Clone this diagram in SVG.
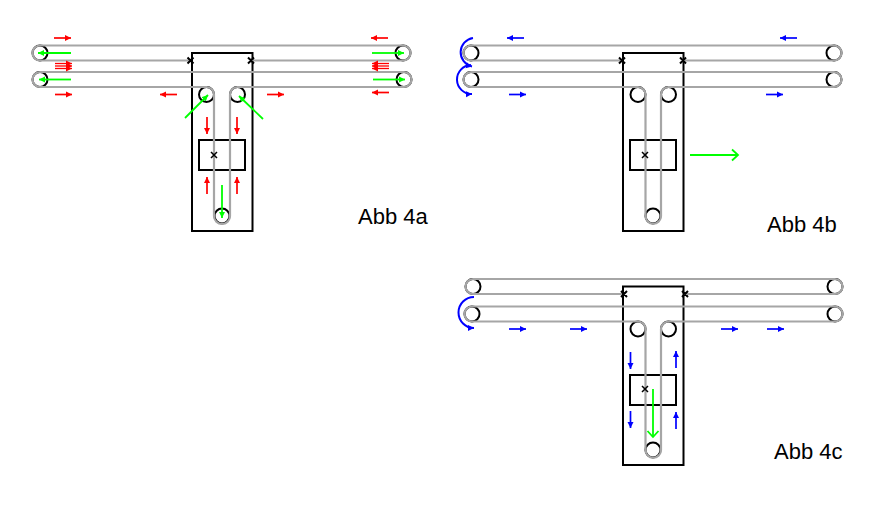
<svg xmlns="http://www.w3.org/2000/svg" width="887" height="517" viewBox="0 0 887 517">
<defs>
<marker id="hr" markerUnits="userSpaceOnUse" markerWidth="7" markerHeight="7" refX="6" refY="3.5" orient="auto"><path d="M0 .5L6 3.5L0 6.500Z" fill="#f00"/></marker>
<marker id="hb" markerUnits="userSpaceOnUse" markerWidth="7" markerHeight="7" refX="6" refY="3.500" orient="auto"><path d="M0 .5L6 3.5L0 6.500Z" fill="#00f"/></marker>
<marker id="hg" markerUnits="userSpaceOnUse" markerWidth="7" markerHeight="7" refX="6" refY="3.500" orient="auto"><path d="M0 .5L6 3.5L0 6.500Z" fill="#0f0"/></marker>
<marker id="og" markerUnits="userSpaceOnUse" markerWidth="12" markerHeight="16" refX="9" refY="8" orient="auto"><path d="M3 2.500L9 8L3 13.500" fill="none" stroke="#0f0" stroke-width="1.800"/></marker>
</defs>
<style>
.p{fill:#fff;stroke:#000;stroke-width:2}
.f{fill:none;stroke:#000;stroke-width:2}
.x{fill:none;stroke:#000;stroke-width:2}
.y{fill:none;stroke:#000;stroke-width:1.500}
.b{fill:none;stroke:#a6a6a6;stroke-width:2.200}
.r{fill:none;stroke:#f00;stroke-width:1.700;marker-end:url(#hr)}
.t{fill:none;stroke:#f00;stroke-width:1.300;marker-end:url(#hr)}
.l{fill:none;stroke:#00f;stroke-width:1.700;marker-end:url(#hb)}
.a{fill:none;stroke:#00f;stroke-width:2;marker-end:url(#hb)}
.g{fill:none;stroke:#0f0;stroke-width:1.800;marker-end:url(#hg)}
.o{fill:none;stroke:#0f0;stroke-width:1.800;marker-end:url(#og)}
text{font-family:"Liberation Sans",Arial,sans-serif;font-size:22px;fill:#000}
</style>
<g id="frame-a"><rect class="f" x="192" y="53" width="60.500" height="178"/><rect class="f" x="199" y="140" width="46" height="30"/></g>
<g id="pulleys-a"><circle class="p" cx="40" cy="53" r="7.500"/><circle class="p" cx="40" cy="79.500" r="7.500"/><circle class="p" cx="403" cy="53" r="7.500"/><circle class="p" cx="404" cy="79.500" r="7.500"/><circle class="p" cx="206.500" cy="94.500" r="7.500"/><circle class="p" cx="237.500" cy="94.500" r="7.500"/><circle class="p" cx="222" cy="216" r="7.500"/></g>
<g id="frame-b"><rect class="f" x="623" y="53" width="60.500" height="178"/><rect class="f" x="630" y="140" width="46" height="30"/></g>
<g id="pulleys-b"><circle class="p" cx="471" cy="53" r="7.500"/><circle class="p" cx="471" cy="79.500" r="7.500"/><circle class="p" cx="834" cy="53" r="7.500"/><circle class="p" cx="834" cy="79.500" r="7.500"/><circle class="p" cx="638" cy="94.500" r="7.500"/><circle class="p" cx="668.500" cy="94.500" r="7.500"/><circle class="p" cx="653" cy="216" r="7.500"/></g>
<g id="frame-c"><rect class="f" x="623" y="286.500" width="60.500" height="178.500"/><rect class="f" x="630" y="375" width="46" height="30"/></g>
<g id="pulleys-c"><circle class="p" cx="473" cy="286.500" r="7.500"/><circle class="p" cx="472" cy="314" r="7.500"/><circle class="p" cx="835" cy="286.500" r="7.500"/><circle class="p" cx="835" cy="314" r="7.500"/><circle class="p" cx="638" cy="329" r="7.500"/><circle class="p" cx="668.500" cy="329" r="7.500"/><circle class="p" cx="653" cy="450" r="7.500"/></g>
<g id="connectors">
<path class="b" d="M190 60.500H40A7.500 7.500 0 0 1 40 45.500H403A7.500 7.500 0 0 1 403 60.500H251"/>
<path class="b" d="M206.500 87H40A7.500 7.500 0 0 1 40 72H404A7.500 7.500 0 0 1 404 87H237.500A7.500 7.500 0 0 0 230 94.500V216A7.900 7.900 0 0 1 214 216V94.500A7.500 7.500 0 0 0 206.500 87"/>
<path class="b" d="M621 60.500H471A7.500 7.500 0 0 1 471 45.500H834A7.500 7.500 0 0 1 834 60.500H682"/>
<path class="b" d="M638 87H471A7.500 7.500 0 0 1 471 72H834A7.500 7.500 0 0 1 834 87H668.500A7.500 7.500 0 0 0 661 94.500V216A7.600 7.600 0 0 1 645.500 216V94.500A7.500 7.500 0 0 0 638 87"/>
<path class="b" d="M622 294H473A7.500 7.500 0 0 1 473 279H835A7.500 7.500 0 0 1 835 294H684"/>
<path class="b" d="M638 321.500H472A7.500 7.500 0 0 1 472 306.500H835A7.500 7.500 0 0 1 835 321.500H668.500A7.500 7.500 0 0 0 661 329V450A7.600 7.600 0 0 1 645.500 450V329A7.500 7.500 0 0 0 638 321.500"/>
<path class="x" d="M187.500 57.500l6 6m0-6l-6 6M248 57.500l6 6m0-6l-6 6"/><path class="y" d="M211 152l6 6m0-6l-6 6"/>
<path class="x" d="M619 57.500l6 6m0-6l-6 6M680 57.500l6 6m0-6l-6 6"/><path class="y" d="M642 152l6 6m0-6l-6 6"/>
<path class="x" d="M621 291l6 6m0-6l-6 6M682 291l6 6m0-6l-6 6"/><path class="y" d="M642 386l6 6m0-6l-6 6"/>
<path class="r" d="M54 38H71"/><path class="t" d="M55 63.500H72"/><path class="t" d="M55 66H72"/><path class="t" d="M55 68.500H72"/><path class="r" d="M55 94.500H72"/><path class="r" d="M177 94.500H160"/><path class="r" d="M267 94.500H284"/><path class="r" d="M388 38H371"/><path class="t" d="M389 63.500H372"/><path class="t" d="M389 66H372"/><path class="t" d="M389 68.500H372"/><path class="r" d="M389 92.500H372"/><path class="r" d="M207 117V134"/><path class="r" d="M237 117V134"/><path class="r" d="M207 194V177"/><path class="r" d="M237 194V177"/>
<path class="g" d="M71 53H38"/><path class="g" d="M71 79.500H39"/><path class="g" d="M372 53H404"/><path class="g" d="M373 79.500H405"/><path class="g" d="M185 118L208 95"/><path class="g" d="M263 119L239 96"/><path class="g" d="M222 185V218"/>
<path class="o" d="M690 155H738"/><path class="o" d="M653 389V437"/>
<path class="a" d="M473 38A14.500 14.500 0 0 0 472 66.500"/><path class="a" d="M471 65A14.500 14.500 0 0 0 472 94"/><path class="a" d="M474 297A15.500 15.500 0 0 0 474 328"/>
<path class="l" d="M524 38H507"/><path class="l" d="M509 94.500H526"/><path class="l" d="M797 38H780"/><path class="l" d="M766 94.500H783"/>
<path class="l" d="M509 329H526"/><path class="l" d="M570 329H587"/><path class="l" d="M721 329H738"/><path class="l" d="M767 329H784"/>
<path class="l" d="M630.500 352V369"/><path class="l" d="M630.500 411V428"/><path class="l" d="M676 368V351"/><path class="l" d="M676 429V412"/>
</g>
<text id="label-a" x="358" y="224">Abb 4a</text>
<text id="label-b" x="767" y="232">Abb 4b</text>
<text id="label-c" x="774" y="459">Abb 4c</text>
</svg>
